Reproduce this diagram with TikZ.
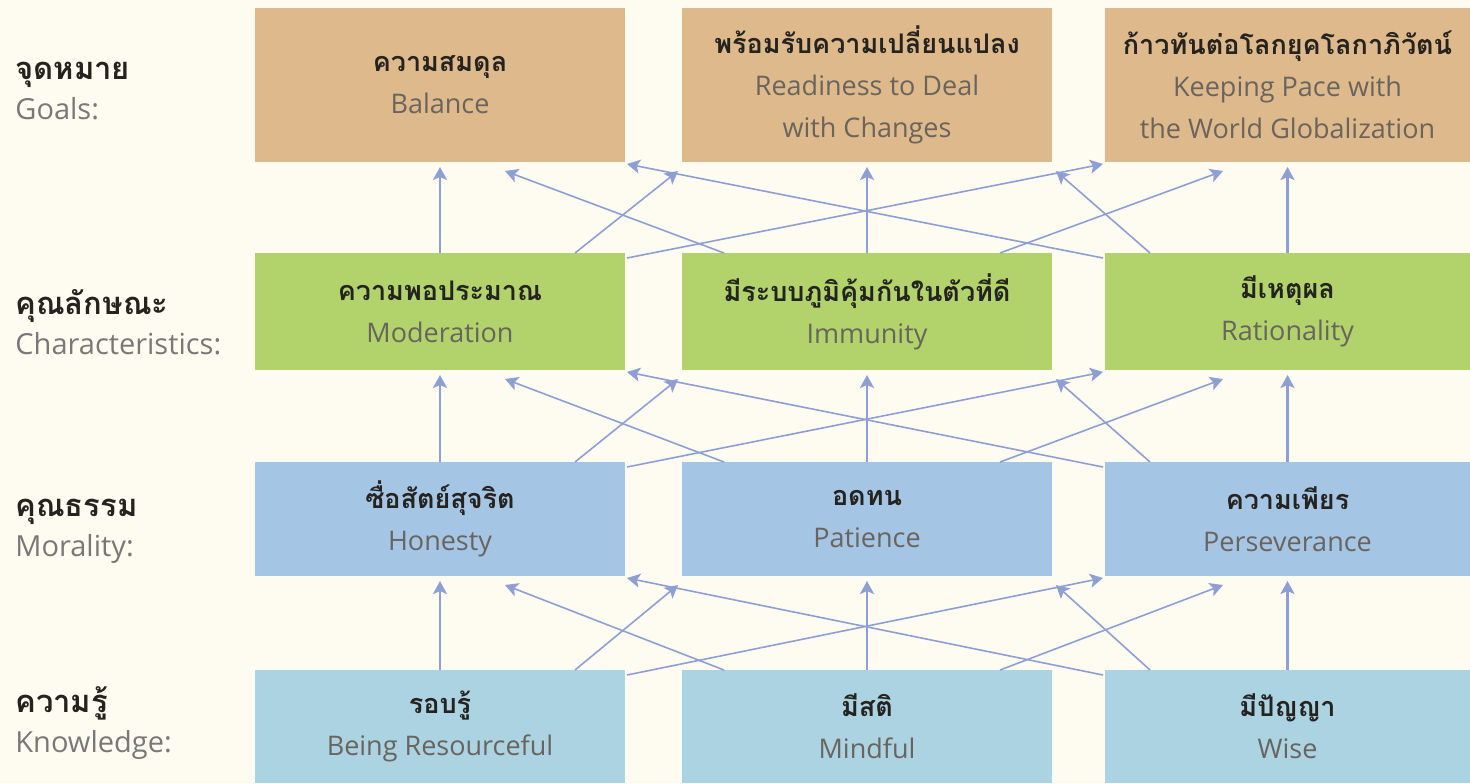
\documentclass[tikz,border=0pt]{standalone}
\usepackage{fontspec}
\setmainfont{Open Sans}
\newfontfamily\thai[Script=Thai]{Loma}
\usetikzlibrary{arrows.meta,calc}
\definecolor{bg}{HTML}{FEFCF0}
\definecolor{tanc}{HTML}{DDB98B}
\definecolor{grn}{HTML}{B2D36B}
\definecolor{blu}{HTML}{A5C5E4}
\definecolor{lblu}{HTML}{ABD3E1}
\definecolor{arrc}{HTML}{8E9FD4}
\definecolor{thc}{HTML}{25231F}
\definecolor{enc}{HTML}{69645D}
\definecolor{lbc}{HTML}{787878}
\newcommand{\BTH}{\thai\bfseries\fontsize{13.5}{21}\selectfont\color{thc}}
\newcommand{\LTH}{\thai\bfseries\fontsize{15.5}{20}\selectfont\color{thc}}
\tikzset{
  box/.style={anchor=north west, inner sep=0pt, outer sep=0pt, align=center,
    minimum width=185pt, font=\fontsize{13.5}{21}\selectfont, text=enc},
  wide/.style={minimum width=182.5pt},
  goal/.style={box, fill=tanc, minimum height=77pt},
  chr/.style={box, fill=grn, minimum height=58.5pt},
  mor/.style={box, fill=blu, minimum height=57pt},
  kno/.style={box, fill=lblu, minimum height=56.5pt},
  lbl/.style={anchor=west, align=left, inner sep=0pt,
    font=\fontsize{14.5}{20}\selectfont, text=lbc},
  arr/.style={draw=arrc, line width=0.8pt, -{Stealth[length=6.5pt,width=7pt,inset=1.5pt]}},
  varr/.style={arr, line width=1.3pt}
}
\newcommand{\links}[6]{%
  \draw[varr] (#4.north) -- ($(#1.south)+(0,5)$);
  \draw[varr] (#5.north) -- ($(#2.south)+(0,5)$);
  \draw[varr] (#6.north) -- ($(#3.south)+(0,5)$);
  \draw[arr] ($(#4.north west)+(320,0)$) -- ($(#2.south west)+(-4,9)$);
  \draw[arr] ($(#5.north west)+(42,0)$) -- ($(#1.south west)+(250,9)$);
  \draw[arr] ($(#5.north east)+(-52,0)$) -- ($(#3.south west)+(118,9)$);
  \draw[arr] ($(#6.north west)+(45,0)$) -- ($(#2.south east)+(4,9)$);
  \draw[arr] ($(#4.north east)+(2,5)$) -- ($(#3.south west)+(-2,2)$);
  \draw[arr] ($(#6.north west)+(-2,5)$) -- ($(#1.south east)+(2,2)$);
}
\begin{document}
\begin{tikzpicture}[x=0.5pt,y=-0.5pt]
\fill[bg] (0,0) rectangle (1470,783);
\useasboundingbox (0,0) rectangle (1470,783);

% row labels
\node[lbl] (lg) at (15,91) {{\LTH จุดหมาย}\\Goals:};
\node[lbl] (lc) at (15,322) {{\LTH คุณลักษณะ}\\Characteristics:};
\node[lbl] (lm) at (15,531) {{\LTH คุณธรรม}\\Morality:};
\node[lbl] (lk) at (15,723) {{\LTH ความรู้}\\Knowledge:};

% goals
\node[goal] (g1) at (255,8) {{\BTH ความสมดุล}\\Balance};
\node[goal] (g2) at (682,8) {{\BTH พร้อมรับความเปลี่ยนแปลง}\\Readiness to Deal\\with Changes};
\node[goal,wide] (g3) at (1105,8) {{\BTH ก้าวทันต่อโลกยุคโลกาภิวัตน์}\\Keeping Pace with\\the World Globalization};

% characteristics
\node[chr] (c1) at (255,253) {{\BTH ความพอประมาณ}\\Moderation};
\node[chr] (c2) at (682,253) {{\BTH มีระบบภูมิคุ้มกันในตัวที่ดี}\\Immunity};
\node[chr,wide] (c3) at (1105,253) {{\BTH มีเหตุผล}\\Rationality};

% morality
\node[mor] (m1) at (255,462) {{\BTH ซื่อสัตย์สุจริต}\\Honesty};
\node[mor] (m2) at (682,462) {{\BTH อดทน}\\Patience};
\node[mor,wide] (m3) at (1105,462) {{\BTH ความเพียร}\\Perseverance};

% knowledge
\node[kno] (k1) at (255,670) {{\BTH รอบรู้}\\Being Resourceful};
\node[kno] (k2) at (682,670) {{\BTH มีสติ}\\Mindful};
\node[kno,wide] (k3) at (1105,670) {{\BTH มีปัญญา}\\Wise};

\links{g1}{g2}{g3}{c1}{c2}{c3}
\links{c1}{c2}{c3}{m1}{m2}{m3}
\links{m1}{m2}{m3}{k1}{k2}{k3}
\end{tikzpicture}
\end{document}
